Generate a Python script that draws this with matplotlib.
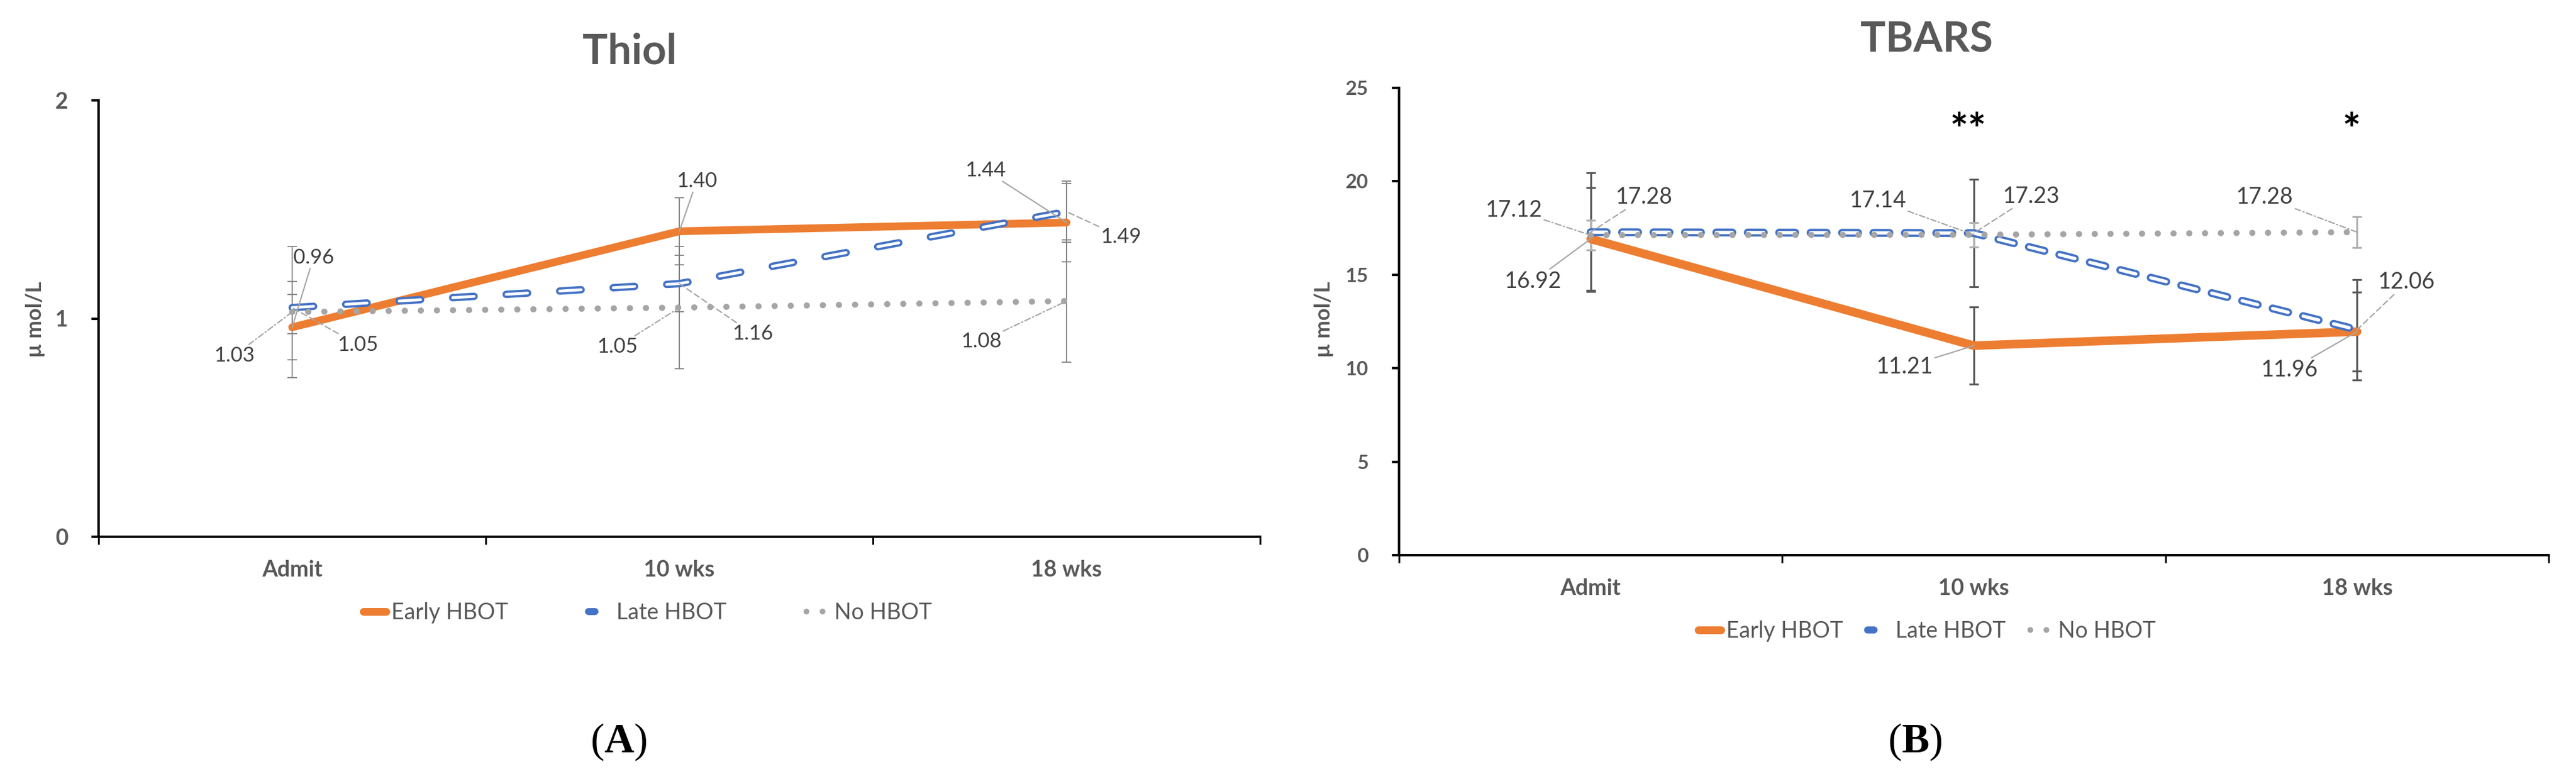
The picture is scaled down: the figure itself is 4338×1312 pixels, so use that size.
import matplotlib
matplotlib.use("Agg")
import matplotlib.pyplot as plt
from matplotlib.lines import Line2D
from matplotlib.legend_handler import HandlerTuple
from matplotlib import font_manager

# pick a Calibri-like family if it is there
names = {f.name for f in font_manager.fontManager.ttflist}
sans = "Lato" if "Lato" in names else "DejaVu Sans"
plt.rcParams["font.family"] = [sans, "DejaVu Sans"]
plt.rcParams["lines.scale_dashes"] = False
plt.rcParams["mathtext.fontset"] = "custom"
plt.rcParams["mathtext.rm"] = "Liberation Serif"
plt.rcParams["mathtext.bf"] = "Liberation Serif:bold"

""" data """
timepoints = ["Admit", "10 wks", "18 wks"]
groups = ["Early HBOT", "Late HBOT", "No HBOT"]

thiol_early = [0.96, 1.40, 1.44]
thiol_late = [1.05, 1.16, 1.49]
thiol_no = [1.03, 1.05, 1.08]
thiol_early_err = [0.15, 0.155, 0.18]
thiol_late_err = [0.12, 0.13, 0.14]
thiol_no_err = [0.30, 0.28, 0.28]

tbars_early = [16.92, 11.21, 11.96]
tbars_late = [17.28, 17.23, 12.06]
tbars_no = [17.12, 17.14, 17.28]
tbars_early_err = [2.75, 2.07, 2.10]
tbars_late_err = [3.17, 2.87, 2.68]
tbars_no_err = [0.80, 0.64, 0.82]

tbars_stars = ["", "**", "*"]

""" label placement (x offset from the point, y of the label) """
thiol_label_pos = [
    [(0.055, 1.28), (0.045, 1.63), (-0.21, 1.68)],
    [(0.17, 0.88), (0.19, 0.93), (0.14, 1.375)],
    [(-0.15, 0.83), (-0.16, 0.87), (-0.22, 0.895)],
]
tbars_label_pos = [
    [(-0.15, 14.65), (-0.18, 10.06), (-0.175, 9.9)],
    [(0.14, 19.14), (0.15, 19.2), (0.13, 14.6)],
    [(-0.20, 18.47), (-0.25, 18.98), (-0.24, 19.15)],
]

ORANGE = "#ED7D31"
BLUE = "#4472C4"
GRAY = "#A5A5A5"
TXT = "#595959"
LAB = "#404040"
LEAD = "#A6A6A6"

W, H = 4338, 1312
fig = plt.figure(figsize=(W / 100, H / 100), dpi=100)


def fx(px):
    return px / W


def fy(py):
    return 1 - py / H


def draw_panel(ax, means, errs, label_pos, st):
    x = [0, 1, 2]
    for k in range(3):
        ax.errorbar(x, means[k], yerr=errs[k], fmt="none", ecolor=st["ecolor"][k],
                    elinewidth=st["elw"], capsize=st["capsize"], capthick=st["elw"], zorder=2)
    ax.plot(x, means[0], color=ORANGE, lw=st["lw_early"], solid_capstyle="round",
            solid_joinstyle="round", zorder=3)
    dash = (0, st["dash"])
    ax.plot(x, means[1], color=BLUE, lw=st["lw_late"], linestyle=dash,
            dash_capstyle="round", dash_joinstyle="round", zorder=4)
    ax.plot(x, means[1], color="white", lw=st["lw_late_in"], linestyle=dash,
            dash_capstyle="round", dash_joinstyle="round", zorder=5)
    ax.plot(x, means[2], color=GRAY, lw=st["lw_no"], linestyle=(0, (0.1, st["dotgap"])),
            dash_capstyle="round", zorder=6)

    leader_ls = ["-", (0, (7, 4)), (0, (7, 3, 1.5, 3))]
    for k in range(3):
        for i in range(3):
            dx, ty = label_pos[k][i]
            ax.annotate(f"{means[k][i]:.2f}", xy=(i, means[k][i]), xytext=(i + dx, ty),
                        ha="center", va="center", fontsize=st["labsize"], color=LAB,
                        arrowprops=dict(arrowstyle="-", color=LEAD, lw=1.6,
                                        linestyle=leader_ls[k], shrinkA=0, shrinkB=0),
                        zorder=7)

    ax.set_xlim(-0.5, 2.5)
    ax.set_ylim(st["ylim"])
    ax.set_yticks(st["yticks"])
    ax.set_xticks([-0.5, 0.5, 1.5, 2.5])
    ax.set_xticklabels([])
    ax.set_xticks(x, minor=True)
    ax.set_xticklabels(timepoints, minor=True)
    ax.tick_params(axis="x", which="major", direction="out", length=9, width=2.2, color="black")
    ax.tick_params(axis="x", which="minor", length=0, pad=28, labelsize=27, labelcolor=TXT)
    ax.tick_params(axis="y", direction="out", length=9, width=3, pad=28,
                   labelsize=st["ytsize"], labelcolor=TXT)
    for t in ax.get_xticklabels(minor=True) + ax.get_yticklabels():
        t.set_fontweight("bold")
    for s in ["top", "right"]:
        ax.spines[s].set_visible(False)
    for s in ["left", "bottom"]:
        ax.spines[s].set_linewidth(3)
        ax.spines[s].set_color("black")


""" A: Thiol """
ax1 = fig.add_axes([fx(166), fy(904), fx(2122 - 166), (904 - 169) / H])
draw_panel(ax1, [thiol_early, thiol_late, thiol_no],
           [thiol_early_err, thiol_late_err, thiol_no_err], thiol_label_pos,
           dict(ecolor=["#808080"] * 3, elw=1.3, capsize=6, lw_early=9.4, lw_late=9,
                lw_late_in=3.4, dash=(26, 39), lw_no=7.5, dotgap=19.4, labsize=25,
                ylim=(0, 2), yticks=[0, 1, 2], ytsize=27))

""" B: TBARS """
ax2 = fig.add_axes([fx(2356), fy(935), fx(4292 - 2356), (935 - 148) / H])
draw_panel(ax2, [tbars_early, tbars_late, tbars_no],
           [tbars_early_err, tbars_late_err, tbars_no_err], tbars_label_pos,
           dict(ecolor=["#595959", "#595959", "#B0B0B0"], elw=2.3, capsize=6, lw_early=10.4,
                lw_late=9.6, lw_late_in=4.0, dash=(19.4, 18.7), lw_no=7.5, dotgap=19,
                labsize=27, ylim=(0, 25), yticks=[0, 5, 10, 15, 20, 25], ytsize=24))
for i, s in enumerate(tbars_stars):
    if s:
        ax2.text(i - 0.015, 22.6, s, fontsize=52, fontweight="bold", color="black",
                 ha="center", va="center")

""" titles, axis titles, panel letters """
fig.text(fx(1060), fy(108), "Thiol", fontsize=51, fontweight="bold", color=TXT,
         ha="center", va="baseline")
fig.text(fx(3244), fy(87), "TBARS", fontsize=51, fontweight="bold", color=TXT,
         ha="center", va="baseline")
for px in [59, 2229]:
    fig.text(fx(px), fy(538), "µ mol/L", rotation=90, fontsize=26, fontweight="bold",
             color=TXT, ha="center", va="center")
fig.text(fx(1042), fy(1267), r"($\mathbf{A}$)", fontsize=50, family="Liberation Serif",
         ha="center", va="baseline", color="black")
fig.text(fx(3225), fy(1267), r"($\mathbf{B}$)", fontsize=50, family="Liberation Serif",
         ha="center", va="baseline", color="black")

""" legends """
h_early = Line2D([], [], color=ORANGE, lw=9.4, solid_capstyle="round")
h_late = (Line2D([], [], color=BLUE, lw=8.5, solid_capstyle="round"),
          Line2D([], [], color="white", lw=3.4, solid_capstyle="round"))
h_no = Line2D([], [], color=GRAY, lw=7, linestyle=(0, (0.1, 19.4)), dash_capstyle="round")
for cx, cy, gap in [(1091, 1032, 3.6), (3245, 1063, 1.1)]:
    fig.legend([h_early, h_late, h_no], groups, handler_map={tuple: HandlerTuple(ndivide=None)},
               loc="center", bbox_to_anchor=(fx(cx), fy(cy)), ncol=3, frameon=False,
               fontsize=27, labelcolor=TXT, handlelength=1.0, handletextpad=0.25,
               columnspacing=gap)

fig.savefig("out.png", dpi=100)
